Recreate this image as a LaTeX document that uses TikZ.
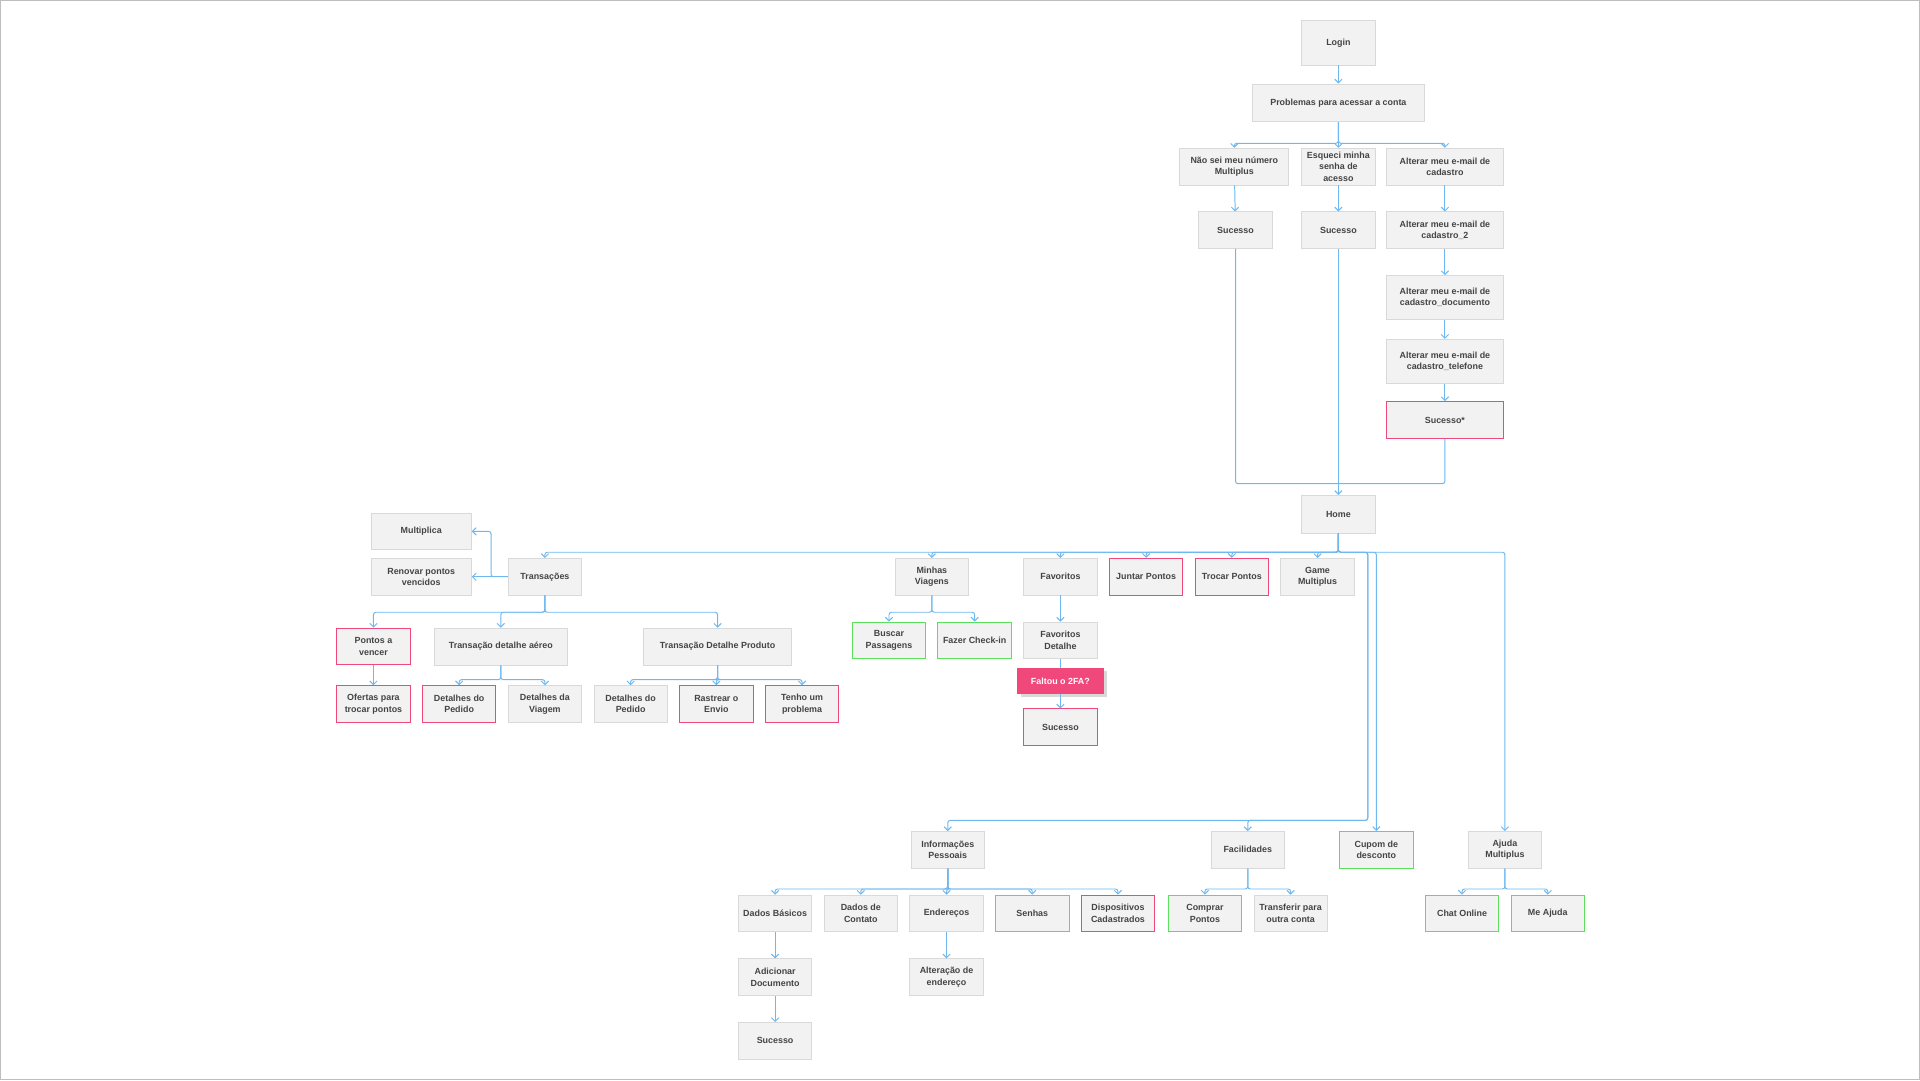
\documentclass[tikz,border=0pt]{standalone}
\usepackage{fontspec}
\setmainfont{Liberation Sans}
\usetikzlibrary{shadows,arrows.meta}
\definecolor{bx}{HTML}{F2F2F2}
\definecolor{bd}{HTML}{D9D9D9}
\definecolor{pk}{HTML}{F0487A}
\definecolor{gr}{HTML}{5BE05B}
\definecolor{ln}{HTML}{6DB8F0}
\definecolor{tx}{HTML}{444444}
\begin{document}
\begin{tikzpicture}[x=1bp,y=-1bp,
 b/.style={draw=bd,fill=bx,line width=0.6bp,minimum width=60bp,minimum height=30bp,inner sep=1bp,align=center,font=\fontsize{7.3}{9.3}\selectfont\bfseries,text=tx},
 p/.style={b,draw=pk,line width=0.8bp},
 g/.style={b,draw=gr,line width=0.8bp},
 arr/.style={draw=ln,line width=0.8bp,-{Straight Barb[length=3bp,width=6bp]},rounded corners=2bp},
 ln/.style={draw=ln,line width=0.8bp,rounded corners=2bp}]
\draw[bd!70!gray,line width=1bp,fill=white] (0.5,0.5) rectangle (1567.5,881.5);
\node[b,minimum height=36bp] (login) at (1093,35) {Login};
\node[b,minimum width=140bp,minimum height=31bp] (prob) at (1093,84) {Problemas para acessar a conta};
\node[b,minimum width=89bp] (nao) at (1008,136) {Não sei meu número\\Multiplus};
\node[b] (esq) at (1093,136) {Esqueci minha\\senha de\\acesso};
\node[b,minimum width=95bp] (alt1) at (1180,136) {Alterar meu e-mail de\\cadastro};
\node[b] (suc1) at (1009,188) {Sucesso};
\node[b] (suc2) at (1093,188) {Sucesso};
\node[b,minimum width=95bp] (alt2) at (1180,188) {Alterar meu e-mail de\\cadastro\_2};
\node[b,minimum width=95bp,minimum height=36bp] (alt3) at (1180,243) {Alterar meu e-mail de\\cadastro\_documento};
\node[b,minimum width=95bp,minimum height=36bp] (alt4) at (1180,295) {Alterar meu e-mail de\\cadastro\_telefone};
\node[p,minimum width=95bp] (sucs) at (1180,343) {Sucesso*};
\node[b,minimum height=31bp] (home) at (1093,420) {Home};
\node[b,minimum width=82bp] (mult) at (344,434) {Multiplica};
\node[b,minimum width=82bp] (ren) at (344,471) {Renovar pontos\\vencidos};
\node[b] (tra) at (445,471) {Transações};
\node[b] (mv) at (761,471) {Minhas\\Viagens};
\node[b] (fav) at (866,471) {Favoritos};
\node[p] (jun) at (936,471) {Juntar Pontos};
\node[p] (tro) at (1006,471) {Trocar Pontos};
\node[b] (game) at (1076,471) {Game\\Multiplus};
\node[p] (pav) at (305,528) {Pontos a\\vencer};
\node[b,minimum width=109bp] (tda) at (409,528) {Transação detalhe aéreo};
\node[b,minimum width=121bp] (tdp) at (586,528) {Transação Detalhe Produto};
\node[p] (ofe) at (305,575) {Ofertas para\\trocar pontos};
\node[p] (dp1) at (375,575) {Detalhes do\\Pedido};
\node[b] (dv) at (445,575) {Detalhes da\\Viagem};
\node[b] (dp2) at (515,575) {Detalhes do\\Pedido};
\node[p] (ras) at (585,575) {Rastrear o\\Envio};
\node[p] (ten) at (655,575) {Tenho um\\problema};
\node[g] (bus) at (726,523) {Buscar\\Passagens};
\node[g] (che) at (796,523) {Fazer Check-in};
\node[b] (fd) at (866,523) {Favoritos\\Detalhe};
\node[b,fill=pk,draw=pk,text=white,minimum width=70bp,minimum height=21bp,drop shadow={opacity=0.3}] (fal) at (866,556) {Faltou o 2FA?};
\node[p] (suc3) at (866,594) {Sucesso};
\node[b] (inf) at (774,694) {Informações\\Pessoais};
\node[b] (fac) at (1019,694) {Facilidades};
\node[g] (cup) at (1124,694) {Cupom de\\desconto};
\node[b] (aju) at (1229,694) {Ajuda\\Multiplus};
\node[b] (dbas) at (633,746) {Dados Básicos};
\node[b] (dcon) at (703,746) {Dados de\\Contato};
\node[b] (end) at (773,746) {Endereços};
\node[g] (sen) at (843,746) {Senhas};
\node[p] (dis) at (913,746) {Dispositivos\\Cadastrados};
\node[g] (com) at (984,746) {Comprar\\Pontos};
\node[b] (trf) at (1054,746) {Transferir para\\outra conta};
\node[g] (cha) at (1194,746) {Chat Online};
\node[g] (mea) at (1264,746) {Me Ajuda};
\node[b] (adi) at (633,798) {Adicionar\\Documento};
\node[b] (aend) at (773,798) {Alteração de\\endereço};
\node[b] (suc4) at (633,850) {Sucesso};
% top
\draw[arr] (login) -- (prob);
\foreach \c in {nao,esq,alt1} \draw[arr] (prob.south) -- (prob.south |- 0,117) -| (\c.north);
\draw[arr] (nao) -- (suc1);
\draw[arr] (esq) -- (suc2);
\draw[arr] (alt1) -- (alt2);
\draw[arr] (alt2) -- (alt3);
\draw[arr] (alt3) -- (alt4);
\draw[arr] (alt4) -- (sucs);
\draw[arr] (suc2) -- (home);
\draw[ln] (suc1.south) |- (1093,395);
\draw[ln] (sucs.south) |- (1093,395);
% home
\foreach \c in {tra,mv,fav,jun,tro,game,cup,aju} \draw[arr] (home.south) -- (home.south |- 0,451) -| (\c.north);
\draw[arr] (home.south) -- (home.south |- 0,451) -| (1117,670) -| (inf.north);
\draw[arr] (home.south) -- (home.south |- 0,451) -| (1117,670) -| (fac.north);
% transacoes
\draw[arr] (tra.west) -| (401,434) -- (mult.east);
\draw[arr] (tra.west) -- (ren.east);
\foreach \c in {pav,tda,tdp} \draw[arr] (tra.south) -- (tra.south |- 0,500) -| (\c.north);
\draw[arr] (pav) -- (ofe);
\foreach \c in {dp1,dv} \draw[arr] (tda.south) -- (tda.south |- 0,555) -| (\c.north);
\foreach \c in {dp2,ras,ten} \draw[arr] (tdp.south) -- (tdp.south |- 0,555) -| (\c.north);
\foreach \c in {bus,che} \draw[arr] (mv.south) -- (mv.south |- 0,500) -| (\c.north);
\draw[arr] (fav) -- (fd);
\draw[ln] (fd) -- (fal);
\draw[arr] (fal) -- (suc3);
% bottom
\foreach \c in {dbas,dcon,end,sen,dis} \draw[arr] (inf.south) -- (inf.south |- 0,726) -| (\c.north);
\foreach \c in {com,trf} \draw[arr] (fac.south) -- (fac.south |- 0,726) -| (\c.north);
\foreach \c in {cha,mea} \draw[arr] (aju.south) -- (aju.south |- 0,726) -| (\c.north);
\draw[arr] (dbas) -- (adi);
\draw[arr] (adi) -- (suc4);
\draw[arr] (end) -- (aend);
\end{tikzpicture}
\end{document}
